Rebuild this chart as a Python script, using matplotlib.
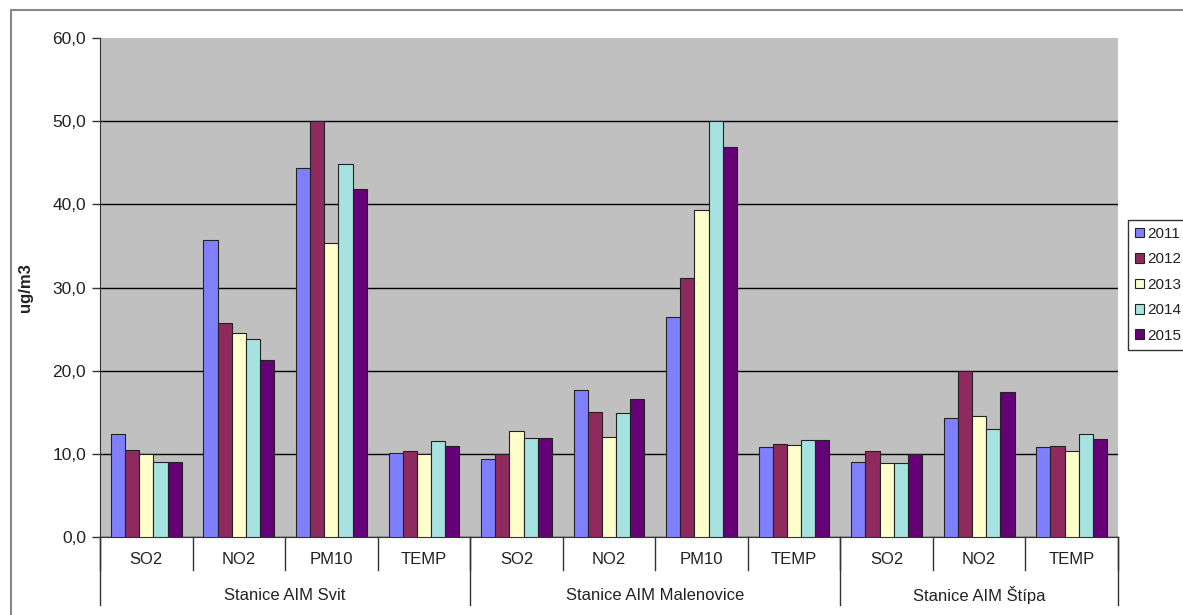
import numpy as np
import matplotlib
matplotlib.use("Agg")
import matplotlib.pyplot as plt
from matplotlib.patches import Rectangle
import matplotlib.transforms as mtransforms

plt.rcParams['font.family'] = ['Liberation Sans', 'DejaVu Sans']

# data
kategorie = ["SO2", "NO2", "PM10", "TEMP",
             "SO2", "NO2", "PM10", "TEMP",
             "SO2", "NO2", "TEMP"]
stanice = ["Stanice AIM Svit", "Stanice AIM Malenovice", "Stanice AIM Štípa"]
stanice_pocet = [4, 4, 3]
roky = ["2011", "2012", "2013", "2014", "2015"]

r2011 = [12.4, 35.7, 44.4, 10.1, 9.4, 17.7, 26.5, 10.8, 9.0, 14.3, 10.8]
r2012 = [10.5, 25.7, 50.0, 10.4, 10.0, 15.0, 31.2, 11.2, 10.3, 20.0, 10.9]
r2013 = [10.0, 24.5, 35.4, 10.0, 12.8, 12.0, 39.3, 11.1, 8.9, 14.5, 10.4]
r2014 = [9.0, 23.8, 44.9, 11.5, 11.9, 14.9, 50.0, 11.7, 8.9, 13.0, 12.4]
r2015 = [9.0, 21.3, 41.8, 11.0, 11.9, 16.6, 46.9, 11.7, 10.0, 17.4, 11.8]
serie = [r2011, r2012, r2013, r2014, r2015]

barvy = ["#8080ff", "#8e2a5e", "#ffffcc", "#a6e2df", "#660077"]
text_c = "#222222"

fig = plt.figure(figsize=(11.83, 6.15), dpi=100)
ax = fig.add_axes([100 / 1183, 1 - 537 / 615, 1018 / 1183, 499 / 615])
ax.set_facecolor("#c0c0c0")

x = np.arange(len(kategorie))
w = 0.153
for i, (vals, c) in enumerate(zip(serie, barvy)):
    ax.bar(x + (i - 2) * w, vals, w, color=c, edgecolor="#222222",
           linewidth=0.8, label=roky[i], zorder=3)

ax.set_xlim(-0.5, len(kategorie) - 0.5)
ax.set_ylim(0, 60)
ax.set_yticks(np.arange(0, 61, 10))
ax.set_yticklabels([f"{v:.1f}".replace(".", ",") for v in np.arange(0, 61, 10)],
                   fontsize=12.5, color=text_c)
ax.yaxis.grid(True, color="black", linewidth=1.0, zorder=1)
ax.get_ygridlines()[-1].set_visible(False)
ax.set_axisbelow(True)
ax.tick_params(axis="y", length=6, width=1, color="#333333", pad=4)
ax.set_xticks([])
for s in ["top", "right"]:
    ax.spines[s].set_visible(False)
ax.spines["left"].set_color("#333333")
ax.spines["bottom"].set_color("#333333")
ax.set_ylabel("ug/m3", fontsize=12, fontweight="bold", labelpad=14, color=text_c)

# category axis with two levels
trans = mtransforms.blended_transform_factory(ax.transData, ax.transAxes)
px = 1 / 499
for k in range(len(kategorie) + 1):
    ax.plot([k - 0.5, k - 0.5], [0, -33 * px], color="#333333", lw=1,
            transform=trans, clip_on=False)
for k, lab in enumerate(kategorie):
    ax.text(k, -23 * px, lab, transform=trans, ha="center", va="center",
            fontsize=12, color=text_c)

start = 0
for name, n in zip(stanice, stanice_pocet):
    ax.plot([start - 0.5, start - 0.5], [0, -68 * px], color="#333333", lw=1,
            transform=trans, clip_on=False)
    ax.text(start + (n - 1) / 2, -58 * px, name, transform=trans,
            ha="center", va="center", fontsize=12, color=text_c)
    start += n
ax.plot([start - 0.5, start - 0.5], [0, -68 * px], color="#333333", lw=1,
        transform=trans, clip_on=False)

leg = fig.legend(loc="upper left", bbox_to_anchor=(1128 / 1183, 1 - 220 / 615),
                 fontsize=11, frameon=True, fancybox=False, handlelength=0.6,
                 handleheight=0.6, handletextpad=0.2, labelspacing=0.75,
                 borderpad=0.45, borderaxespad=0)
leg.get_frame().set_edgecolor("black")
leg.get_frame().set_linewidth(1)
for t in leg.get_texts():
    t.set_color(text_c)

# outer chart border
fig.patches.append(Rectangle((11 / 1183, -0.1), 1.2, 1 - 10 / 615 + 0.1,
                             transform=fig.transFigure, fill=False,
                             edgecolor="#888888", linewidth=1.5))

fig.savefig("out.png", dpi=100)
